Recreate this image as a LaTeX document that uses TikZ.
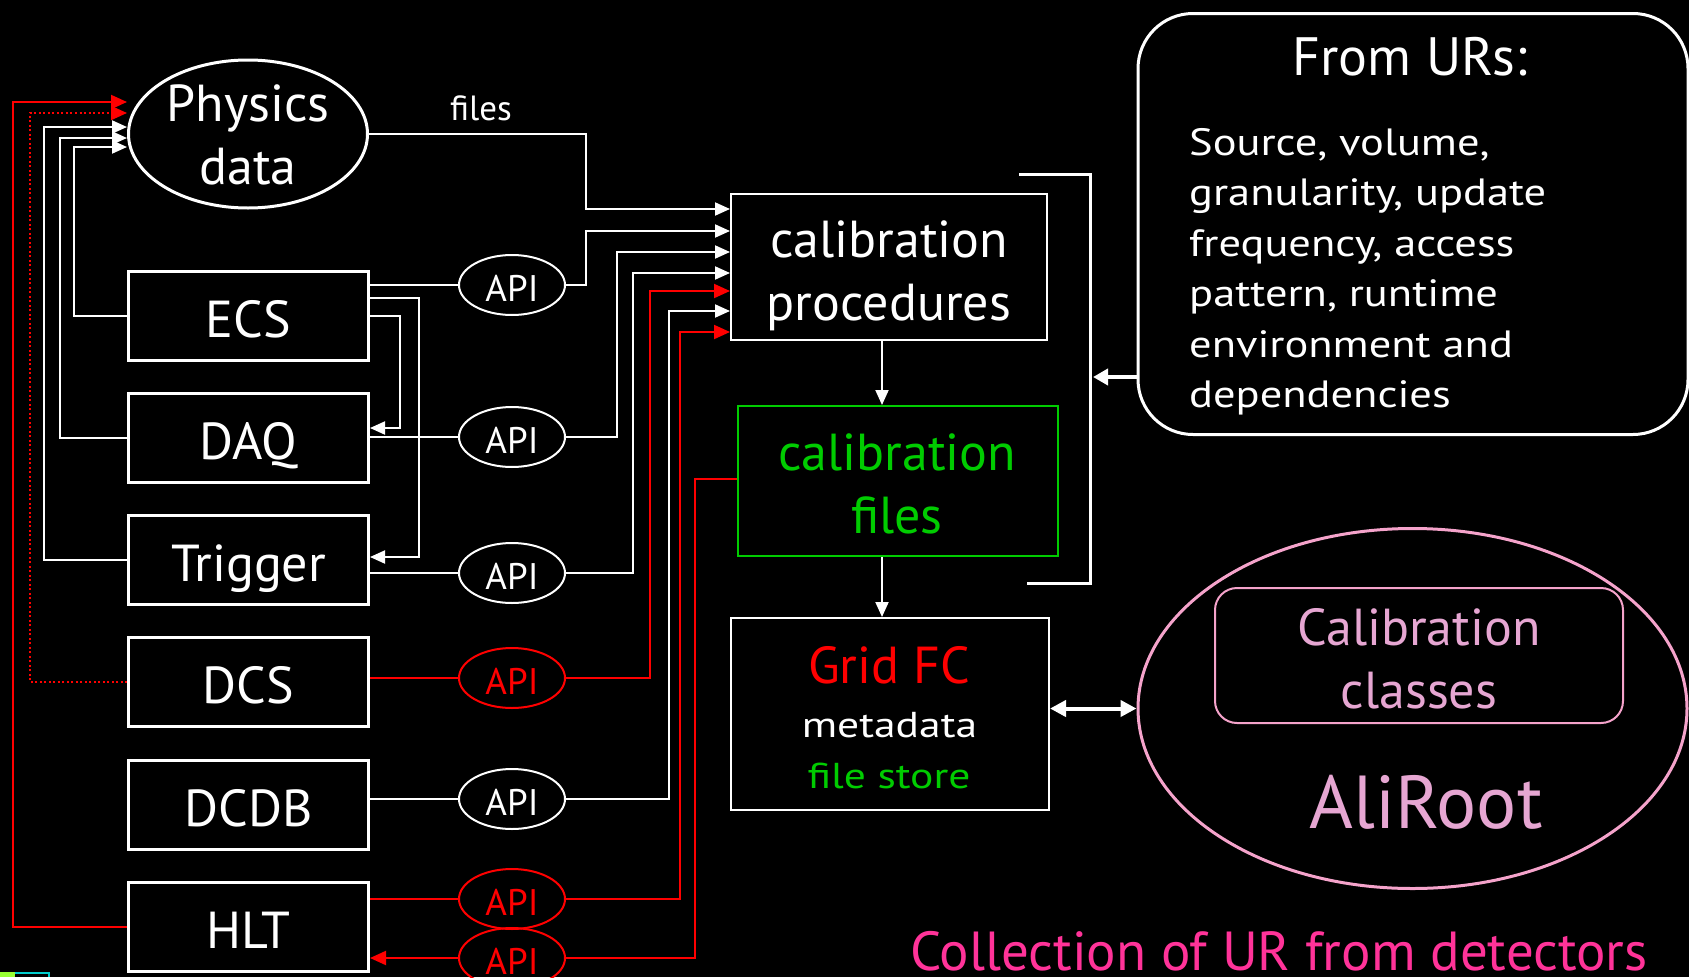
\documentclass[tikz,border=0pt]{standalone}
\usepackage{fontspec}
\setmainfont{PT Sans}
\newfontfamily\wideA{PT Sans}[FakeStretch=1.17]
\newfontfamily\wideB{PT Sans}[FakeStretch=1.21]
\usetikzlibrary{shapes.geometric,arrows.meta,calc}
\definecolor{ggreen}{HTML}{00CC00}
\definecolor{pinkline}{HTML}{F5A3CB}
\definecolor{pinktext}{HTML}{E6A6D2}
\definecolor{hotpink}{HTML}{FF3399}
\definecolor{limeart}{HTML}{99FF33}
\definecolor{cyanart}{HTML}{00CCCC}
\newcommand\fsz[1]{\fontsize{#1}{#1}\selectfont}
\begin{document}
\begin{tikzpicture}[x=1pt,y=-1pt,
  wl/.style={draw=white,line width=2pt},
  rl/.style={draw=red,line width=2pt},
  warr/.style={-{Triangle[length=15pt,width=13pt]}},
  rarr/.style={-{Triangle[length=16pt,width=14pt]}},
  box/.style={draw=white,line width=3pt,minimum width=240pt,minimum height=89pt,inner sep=0pt,
     text=white,font=\fsz{52},text height=43pt,text depth=0pt},
  api/.style={ellipse,draw=white,line width=2pt,minimum width=106pt,minimum height=60pt,inner sep=0pt,
     text=white,font=\fsz{37},text height=32pt,text depth=0pt},
  rapi/.style={api,draw=red,text=red},
  lbl/.style={text=white,anchor=base,inner sep=0pt},
  body/.style={text=white,anchor=base west,inner sep=0pt,font=\wideA\fsz{38}},
]
\fill[black] (0,0) rectangle (1689,977);
\useasboundingbox (0,0) rectangle (1689,977);

% ---------- left column ----------
\node[ellipse,draw=white,line width=3pt,minimum width=239pt,minimum height=148pt,inner sep=0pt] (phys) at (248,134) {};
\node[lbl,font=\fsz{52}] (physA) at (248,121) {Physics};
\node[lbl,font=\fsz{52}] (physB) at (248,184) {data};

\node[box] (ecs)  at (248.5,315.5) {ECS};
\node[box] (daq)  at (248.5,437.5) {DAQ};
\node[box] (trig) at (248.5,559.5) {Trigger};
\node[box] (dcs)  at (248.5,682)   {DCS};
\node[box] (dcdb) at (248.5,805)   {DCDB};
\node[box] (hlt)  at (248.5,927)   {HLT};

% ---------- API ellipses ----------
\node[api]  (api1) at (512,285) {API};
\node[api]  (api2) at (512,437) {API};
\node[api]  (api3) at (512,573) {API};
\node[rapi] (api4) at (512,678) {API};
\node[api]  (api5) at (512,799) {API};
\node[rapi] (api6) at (512,899) {API};
\node[rapi] (api7) at (512,958) {API};

% ---------- centre column ----------
\node[draw=white,line width=2pt,minimum width=316pt,minimum height=146pt,inner sep=0pt] (cp) at (889,267) {};
\node[lbl,font=\fsz{52}] (cpA) at (889,257) {calibration};
\node[lbl,font=\fsz{52}] (cpB) at (889,320) {procedures};

\node[draw=ggreen,line width=2pt,minimum width=320pt,minimum height=150pt,inner sep=0pt] (cf) at (898,481) {};
\node[lbl,text=ggreen,font=\fsz{52}] (cfA) at (897,470) {calibration};
\node[lbl,text=ggreen,font=\fsz{52}] (cfB) at (897,533) {files};

\node[draw=white,line width=2pt,minimum width=318pt,minimum height=192pt,inner sep=0pt] (grid) at (890,714) {};
\node[lbl,text=red,font=\fsz{52}] (gridA) at (889,683) {Grid FC};
\node[lbl,font=\wideB\fsz{36}] (gridB) at (889.5,737) {metadata};
\node[lbl,text=ggreen,font=\wideB\fsz{36}] (gridC) at (889,788) {file store};

\node[lbl,font=\fsz{35}] (files) at (481,120) {files};

% ---------- right column ----------
\node[draw=white,line width=3pt,rounded corners=55pt,minimum width=550pt,minimum height=421pt,inner sep=0pt] (urs) at (1413,224) {};
\node[lbl,font=\fsz{54}] (ursT) at (1410,75) {From URs:};
\node[body] (u1) at (1189,155)   {Source, volume,};
\node[body] (u2) at (1189,205.5) {granularity, update};
\node[body] (u3) at (1189,256)   {frequency, access};
\node[body] (u4) at (1189,306.5) {pattern, runtime};
\node[body] (u5) at (1189,357)   {environment and};
\node[body] (u6) at (1189,407.5) {dependencies};

\node[ellipse,draw=pinkline,line width=3pt,minimum width=549pt,minimum height=360pt,inner sep=0pt] (ali) at (1412.5,708.5) {};
\node[draw=pinkline,line width=2pt,rounded corners=22pt,minimum width=408pt,minimum height=135pt,inner sep=0pt] (cc) at (1419,655.5) {};
\node[lbl,text=pinktext,font=\fsz{52}] (ccA) at (1419,645) {Calibration};
\node[lbl,text=pinktext,font=\fsz{52}] (ccB) at (1419,708) {classes};
\node[lbl,text=pinktext,font=\fsz{75}] (aliT) at (1426,828) {AliRoot};

\node[anchor=base west,inner sep=0pt,text=hotpink,font=\fsz{55}] (coll) at (910,970) {Collection of UR from detectors};

% ---------- bracket ----------
\coordinate (br1) at (1019,174);
\coordinate (br2) at (1090,174);
\coordinate (br3) at (1090,583);
\coordinate (br4) at (1027,583);
\draw[white,line width=3pt] (br1) -- (br2) -- (br3) -- (br4);
\coordinate (ua) at ($(urs.west)+(0,153)$);
\draw[white,line width=4pt,-{Triangle[length=15pt,width=16pt]}] (ua) -- ($(ua -| br2)+(3,0)$);

% ---------- feedback to Physics data ----------
\draw[wl,warr] (ecs.west) -- ++(-53,0) |- ($(phys.west)+(0,13)$);
\draw[wl,warr] (daq.west) -- ++(-67,0) |- ($(phys.west)+(0,4)$);
\draw[wl,warr] (trig.west) -- ++(-83,0) |- ($(phys.west)+(0,-7)$);
\draw[rl,dash pattern=on 2pt off 2.5pt,rarr] (dcs.west) -- ++(-97,0) |- ($(phys.west)+(0,-21)$);
\draw[rl,rarr] (hlt.west) -- ++(-114,0) |- ($(phys.west)+(0,-32)$);

% ---------- ECS fan-out ----------
\draw[wl] (ecs.east |- api1.west) -- (api1.west);
\draw[wl,warr] ($(ecs.east)+(0,-17.5)$) -- ++(49,0) |- ($(trig.east)+(0,-2.5)$);
\draw[wl,warr] (ecs.east) -- ++(30,0) |- ($(daq.east)+(0,-9.5)$);

% ---------- boxes to APIs ----------
\draw[wl] (daq.east |- api2.west) -- (api2.west);
\draw[wl] (trig.east |- api3.west) -- (api3.west);
\draw[rl] (dcs.east |- api4.west) -- (api4.west);
\draw[wl] (dcdb.east |- api5.west) -- (api5.west);
\draw[rl] (hlt.east |- api6.west) -- (api6.west);
\draw[rl,rarr] (api7.west) -- (hlt.east |- api7.west);

% ---------- APIs to calibration procedures ----------
\draw[wl,warr] (phys.east) -- ++(217,0) |- ($(cp.west)+(0,-58)$);
\draw[wl,warr] (api1.east) -- ++(20,0) |- ($(cp.west)+(0,-36)$);
\draw[wl,warr] (api2.east) -- ++(51,0) |- ($(cp.west)+(0,-15)$);
\draw[wl,warr] (api3.east) -- ++(67,0) |- ($(cp.west)+(0,6)$);
\draw[rl,rarr] (api4.east) -- ++(84,0) |- ($(cp.west)+(0,24)$);
\draw[wl,warr] (api5.east) -- ++(103,0) |- ($(cp.west)+(0,44)$);
\draw[rl,rarr] (api6.east) -- ++(114,0) |- ($(cp.west)+(0,65)$);
\draw[rl] ($(cf.west)+(0,-2)$) -- ++(-42,0) |- (api7.east);

% ---------- vertical flow ----------
\coordinate (a1) at ($(cp.south)+(-7,0)$);
\draw[wl,warr] (a1) -- (a1 |- cf.north);
\coordinate (a2) at ($(cf.south)+(-16,0)$);
\draw[wl,warr] (a2) -- (a2 |- grid.north);
\draw[white,line width=4pt,{Triangle[length=16pt,width=16pt]}-{Triangle[length=16pt,width=16pt]}] (grid.east |- ali.west) -- (ali.west);

% ---------- corner artefact ----------
\fill[limeart] (0,972) rectangle (15,977);
\draw[cyanart,line width=1.5pt] (15,973) -- (49,973) -- (49,977);
\end{tikzpicture}
\end{document}
